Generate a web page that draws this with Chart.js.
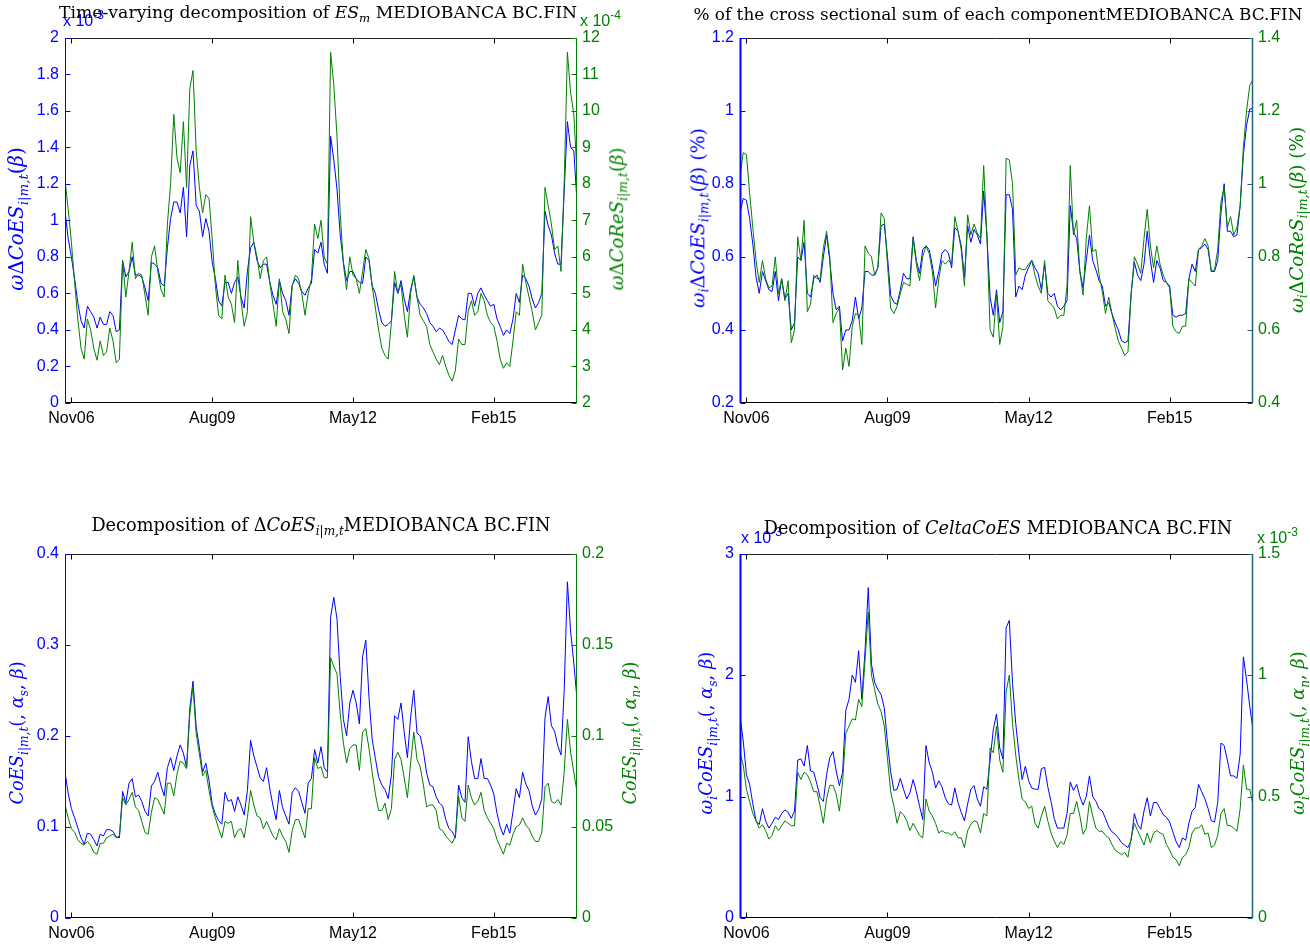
<!DOCTYPE html>
<html>
<head>
<meta charset="utf-8">
<title>MEDIOBANCA BC.FIN decomposition</title>
<script src="https://cdn.jsdelivr.net/npm/chart.js@4.4.1/dist/chart.umd.min.js"></script>
<style>
  html, body { margin: 0; padding: 0; background: #fff; }
  #page { position: relative; width: 1310px; height: 945px; overflow: hidden; background: #fff; }
  .box { position: absolute; }
  .mult { position: absolute; font-family: 'Liberation Sans', Arial, sans-serif; font-size: 16px; white-space: nowrap; line-height: 1; transform: translateY(-50%); }
  .mult sup { font-size: 75%; vertical-align: 0.55em; }
  .ttl { position: absolute; transform: translate(-50%, -50%); white-space: nowrap; font-family: 'DejaVu Serif', serif; font-size: 16px; color: #000; line-height: 1; }
  .yl { position: absolute; transform: translate(-50%, -50%) rotate(-90deg); white-space: nowrap; font-family: 'DejaVu Serif', serif; font-size: 17px; line-height: 1; }
  .ttl sub, .yl sub { font-size: 68%; vertical-align: -0.35em; }
  .blue { color: #0000ff; }
  .green { color: #008000; }
</style>
</head>
<body>
<div id="page">
  <div class="box" style="left:5px;top:22px;width:632px;height:411px"><canvas id="c1"></canvas></div>
  <div class="box" style="left:680px;top:22px;width:633px;height:411px"><canvas id="c2"></canvas></div>
  <div class="box" style="left:5px;top:538px;width:632px;height:410px"><canvas id="c3"></canvas></div>
  <div class="box" style="left:680px;top:538px;width:633px;height:410px"><canvas id="c4"></canvas></div>

  <!-- axis multipliers -->
  <div class="mult blue" style="left:63px;top:19px">x 10<sup>-3</sup></div>
  <div class="mult green" style="left:580px;top:19px">x 10<sup>-4</sup></div>
  <div class="mult blue" style="left:741px;top:536px">x 10<sup>-3</sup></div>
  <div class="mult green" style="left:1257px;top:536px">x 10<sup>-3</sup></div>

  <!-- panel titles -->
  <div class="ttl fit" data-w="519" style="left:318px;top:14px">Time-varying decomposition of <i>ES<sub>m</sub></i> MEDIOBANCA BC.FIN</div>
  <div class="ttl fit" data-w="610" style="left:998px;top:14px">% of the cross sectional sum of each componentMEDIOBANCA BC.FIN</div>
  <div class="ttl fit" data-w="460" style="left:321px;top:527px">Decomposition of Δ<i>CoES<sub>i|m,t</sub></i>MEDIOBANCA BC.FIN</div>
  <div class="ttl fit" data-w="469" style="left:998px;top:529px">Decomposition of <i>CeltaCoES</i> MEDIOBANCA BC.FIN</div>

  <!-- axis titles -->
  <div class="yl blue fit" data-w="143" style="left:19px;top:219px"><i>ω</i>Δ<i>CoES<sub>i|m,t</sub></i>(<i>β</i>)</div>
  <div class="yl green fit" data-w="143" style="left:619px;top:219px"><i>ω</i>Δ<i>CoReS<sub>i|m,t</sub></i>(<i>β</i>)</div>
  <div class="yl blue fit" data-w="180" style="left:700px;top:218px"><i>ω<sub>i</sub></i>Δ<i>CoES<sub>i|m,t</sub></i>(<i>β</i>) (%)</div>
  <div class="yl green fit" data-w="186" style="left:1299px;top:220px"><i>ω<sub>i</sub></i>Δ<i>CoReS<sub>i|m,t</sub></i>(<i>β</i>) (%)</div>
  <div class="yl blue fit" data-w="143" style="left:19px;top:733px"><i>CoES<sub>i|m,t</sub></i>(, <i>α<sub>s</sub></i>, <i>β</i>)</div>
  <div class="yl green fit" data-w="143" style="left:632px;top:733px"><i>CoES<sub>i|m,t</sub></i>(, <i>α<sub>n</sub></i>, <i>β</i>)</div>
  <div class="yl blue fit" data-w="163" style="left:708px;top:733px"><i>ω<sub>i</sub>CoES<sub>i|m,t</sub></i>(, <i>α<sub>s</sub></i>, <i>β</i>)</div>
  <div class="yl green fit" data-w="163" style="left:1300px;top:733px"><i>ω<sub>i</sub>CoES<sub>i|m,t</sub></i>(, <i>α<sub>n</sub></i>, <i>β</i>)</div>
</div>

<script>
// Observations are sampled every 0.75 month; time is measured in months from Nov 2006.
const SAMPLE_START = -1.5;
const SAMPLE_STEP = 0.75;
const tickMonths = [0, 33, 66, 99];
const MONTHS = ['Jan','Feb','Mar','Apr','May','Jun','Jul','Aug','Sep','Oct','Nov','Dec'];

// Time-varying decomposition of ES_m: omega*DeltaCoES (units of 1e-3)
const esOmegaCoES = [
  1.05, 0.90, 0.80, 0.68, 0.55, 0.45, 0.41, 0.53, 0.50, 0.47,
  0.41, 0.47, 0.43, 0.43, 0.50, 0.48, 0.39, 0.40, 0.78, 0.69,
  0.72, 0.80, 0.70, 0.70, 0.69, 0.63, 0.56, 0.77, 0.76, 0.74,
  0.655, 0.64, 0.85, 1.01, 1.10, 1.10, 1.04, 1.18, 0.91, 1.30,
  1.38, 1.08, 1.05, 0.91, 1.01, 0.94, 0.77, 0.68, 0.56, 0.53,
  0.66, 0.66, 0.60, 0.66, 0.69, 0.58, 0.52, 0.72, 0.85, 0.88,
  0.78, 0.74, 0.76, 0.76, 0.66, 0.59, 0.54, 0.67, 0.60, 0.56,
  0.48, 0.645, 0.68, 0.655, 0.61, 0.59, 0.63, 0.655, 0.84, 0.82,
  0.88, 0.76, 0.71, 1.46, 1.33, 1.17, 0.92, 0.77, 0.67, 0.72,
  0.72, 0.68, 0.66, 0.655, 0.80, 0.78, 0.64, 0.60, 0.51, 0.44,
  0.42, 0.43, 0.45, 0.66, 0.60, 0.67, 0.57, 0.50, 0.62, 0.69,
  0.58, 0.54, 0.52, 0.49, 0.44, 0.42, 0.39, 0.41, 0.40, 0.37,
  0.335, 0.32, 0.40, 0.48, 0.46, 0.455, 0.60, 0.60, 0.53, 0.60,
  0.63, 0.59, 0.56, 0.53, 0.54, 0.46, 0.42, 0.37, 0.40, 0.38,
  0.46, 0.60, 0.55, 0.70, 0.68, 0.64, 0.57, 0.52, 0.55, 0.60,
  1.05, 0.97, 0.92, 0.82, 0.76, 0.76, 1.16, 1.54, 1.40, 1.38,
  1.10
];
// omega*DeltaCoReS (units of 1e-4)
const esOmegaCoReS = [
  8.1, 7.3, 6.4, 5.3, 4.3, 3.5, 3.2, 4.3, 4.0, 3.5,
  3.17, 3.7, 3.3, 3.4, 4.05, 3.7, 3.1, 3.2, 5.9, 4.9,
  5.6, 6.4, 5.4, 5.55, 5.5, 4.95, 4.4, 6.0, 6.3, 5.6,
  5.1, 4.9, 6.9, 8.0, 9.9, 8.7, 8.3, 9.7, 7.9, 10.6,
  11.1, 8.9, 7.9, 7.2, 7.7, 7.6, 6.5, 5.2, 4.4, 4.3,
  5.5, 4.9, 4.7, 4.2, 5.9, 4.8, 4.1, 4.5, 7.1, 6.4,
  6.0, 5.4, 5.9, 6.0, 5.3, 4.7, 4.1, 5.4, 4.5, 4.29,
  3.9, 5.2, 5.5, 5.4, 5.0, 4.4, 5.0, 5.4, 6.9, 6.5,
  7.0, 6.0, 5.8, 11.6, 10.7, 9.3, 7.2, 5.8, 5.1, 6.0,
  5.5, 5.4, 5.0, 5.6, 6.2, 5.95, 5.2, 4.6, 4.0, 3.5,
  3.3, 3.2, 4.2, 5.6, 5.0, 5.25, 4.4, 3.8, 5.0, 5.5,
  4.9, 4.4, 4.25, 4.1, 3.6, 3.4, 3.2, 3.05, 3.3, 3.0,
  2.75, 2.6, 2.9, 3.75, 3.6, 3.6, 4.5, 4.8, 4.4, 4.5,
  5.0, 4.8, 4.4, 4.2, 4.1, 3.7, 3.2, 2.95, 3.1, 3.0,
  3.7, 4.5, 4.4, 5.8, 5.3, 4.9, 4.5, 4.0, 4.2, 4.4,
  7.9, 7.4, 6.9, 6.2, 6.3, 5.6, 8.0, 11.6, 10.5, 9.9,
  8.3
];

// Share of the cross-sectional sum (%)
const shareCoES = [
  0.72, 0.76, 0.755, 0.705, 0.635, 0.545, 0.50, 0.56, 0.535, 0.51,
  0.505, 0.56, 0.48, 0.54, 0.485, 0.50, 0.40, 0.42, 0.60, 0.59,
  0.64, 0.50, 0.49, 0.54, 0.55, 0.53, 0.60, 0.66, 0.59, 0.50,
  0.455, 0.465, 0.37, 0.40, 0.40, 0.425, 0.49, 0.43, 0.46, 0.56,
  0.56, 0.55, 0.55, 0.57, 0.685, 0.69, 0.60, 0.495, 0.475, 0.47,
  0.51, 0.555, 0.54, 0.54, 0.655, 0.59, 0.555, 0.62, 0.63, 0.62,
  0.575, 0.52, 0.56, 0.61, 0.62, 0.61, 0.57, 0.68, 0.67, 0.63,
  0.545, 0.685, 0.64, 0.675, 0.66, 0.635, 0.78, 0.66, 0.49, 0.44,
  0.51, 0.42, 0.45, 0.77, 0.77, 0.73, 0.49, 0.52, 0.51, 0.55,
  0.57, 0.59, 0.57, 0.555, 0.51, 0.58, 0.50, 0.49, 0.50, 0.465,
  0.455, 0.465, 0.48, 0.74, 0.67, 0.65, 0.56, 0.515, 0.59, 0.66,
  0.59, 0.565, 0.535, 0.52, 0.465, 0.475, 0.445, 0.42, 0.40, 0.37,
  0.365, 0.37, 0.50, 0.585, 0.55, 0.535, 0.58, 0.67, 0.59, 0.53,
  0.59, 0.57, 0.535, 0.53, 0.52, 0.44, 0.435, 0.44, 0.44, 0.445,
  0.54, 0.58, 0.56, 0.62, 0.625, 0.635, 0.62, 0.56, 0.56, 0.59,
  0.72, 0.80, 0.67, 0.67, 0.655, 0.66, 0.74, 0.88, 0.96, 1.005,
  1.005
];
const shareCoReS = [
  1.02, 1.085, 1.08, 0.975, 0.88, 0.79, 0.73, 0.79, 0.74, 0.715,
  0.72, 0.80, 0.70, 0.74, 0.68, 0.735, 0.565, 0.60, 0.855, 0.79,
  0.90, 0.65, 0.67, 0.75, 0.74, 0.74, 0.825, 0.87, 0.80, 0.62,
  0.645, 0.66, 0.49, 0.55, 0.50, 0.61, 0.645, 0.64, 0.56, 0.83,
  0.81, 0.80, 0.75, 0.77, 0.92, 0.905, 0.78, 0.66, 0.645, 0.665,
  0.70, 0.73, 0.725, 0.72, 0.85, 0.78, 0.735, 0.80, 0.83, 0.81,
  0.76, 0.66, 0.74, 0.79, 0.78, 0.79, 0.78, 0.91, 0.87, 0.82,
  0.72, 0.915, 0.86, 0.89, 0.865, 0.85, 1.05, 0.86, 0.60, 0.58,
  0.70, 0.56, 0.61, 1.07, 1.065, 1.0, 0.75, 0.77, 0.765, 0.765,
  0.78, 0.79, 0.75, 0.72, 0.70, 0.79, 0.68, 0.67, 0.66, 0.63,
  0.64, 0.64, 0.72, 1.05, 0.86, 0.90, 0.76, 0.695, 0.85, 0.94,
  0.815, 0.82, 0.75, 0.705, 0.645, 0.69, 0.645, 0.605, 0.57, 0.55,
  0.53, 0.54, 0.70, 0.80, 0.78, 0.755, 0.85, 0.93, 0.83, 0.77,
  0.83, 0.78, 0.75, 0.73, 0.715, 0.61, 0.595, 0.59, 0.61, 0.61,
  0.74, 0.73, 0.72, 0.82, 0.83, 0.85, 0.83, 0.76, 0.765, 0.82,
  0.95, 0.99, 0.88, 0.91, 0.86, 0.88, 0.94, 1.10, 1.20, 1.27,
  1.285
];

// Decomposition of DeltaCoES: CoES(alpha_s) and CoES(alpha_n)
const coesAlphaS = [
  0.160, 0.137, 0.120, 0.110, 0.099, 0.088, 0.081, 0.093, 0.092, 0.086,
  0.079, 0.092, 0.090, 0.097, 0.097, 0.095, 0.089, 0.088, 0.139, 0.126,
  0.148, 0.153, 0.133, 0.135, 0.128, 0.117, 0.112, 0.145, 0.150, 0.160,
  0.145, 0.134, 0.165, 0.176, 0.162, 0.178, 0.190, 0.181, 0.165, 0.230,
  0.260, 0.210, 0.187, 0.160, 0.170, 0.151, 0.125, 0.114, 0.107, 0.103,
  0.138, 0.128, 0.130, 0.117, 0.133, 0.124, 0.113, 0.140, 0.195, 0.178,
  0.166, 0.154, 0.150, 0.165, 0.142, 0.123, 0.108, 0.140, 0.121, 0.112,
  0.103, 0.138, 0.143, 0.139, 0.127, 0.115, 0.148, 0.153, 0.185, 0.170,
  0.188, 0.165, 0.160, 0.330, 0.352, 0.328, 0.265, 0.218, 0.200, 0.236,
  0.250, 0.236, 0.213, 0.287, 0.305, 0.242, 0.196, 0.175, 0.155, 0.146,
  0.141, 0.131, 0.157, 0.222, 0.218, 0.236, 0.204, 0.176, 0.220, 0.250,
  0.203, 0.200, 0.183, 0.159, 0.146, 0.144, 0.133, 0.126, 0.123, 0.108,
  0.098, 0.095, 0.088, 0.146, 0.132, 0.127, 0.199, 0.172, 0.153, 0.153,
  0.175, 0.153, 0.153, 0.146, 0.136, 0.115, 0.100, 0.091, 0.103, 0.093,
  0.117, 0.142, 0.132, 0.160, 0.147, 0.140, 0.123, 0.113, 0.119, 0.131,
  0.220, 0.243, 0.211, 0.205, 0.189, 0.179, 0.250, 0.369, 0.315, 0.280,
  0.240
];
const coesAlphaN = [
  0.062, 0.055, 0.049, 0.047, 0.043, 0.041, 0.040, 0.042, 0.040, 0.036,
  0.035, 0.041, 0.041, 0.044, 0.045, 0.046, 0.044, 0.045, 0.066, 0.062,
  0.065, 0.069, 0.061, 0.059, 0.053, 0.047, 0.046, 0.058, 0.066, 0.065,
  0.061, 0.057, 0.074, 0.074, 0.067, 0.079, 0.086, 0.085, 0.082, 0.112,
  0.127, 0.101, 0.090, 0.078, 0.081, 0.070, 0.061, 0.055, 0.049, 0.044,
  0.053, 0.052, 0.053, 0.044, 0.048, 0.049, 0.044, 0.055, 0.070, 0.062,
  0.056, 0.055, 0.049, 0.053, 0.049, 0.045, 0.043, 0.049, 0.045, 0.042,
  0.036, 0.048, 0.054, 0.054, 0.049, 0.044, 0.060, 0.060, 0.088, 0.082,
  0.083, 0.077, 0.077, 0.143, 0.138, 0.134, 0.112, 0.096, 0.085, 0.093,
  0.095, 0.095, 0.081, 0.102, 0.104, 0.093, 0.080, 0.068, 0.059, 0.059,
  0.063, 0.054, 0.060, 0.087, 0.091, 0.087, 0.077, 0.066, 0.085, 0.102,
  0.087, 0.083, 0.073, 0.061, 0.062, 0.062, 0.059, 0.049, 0.048, 0.045,
  0.043, 0.041, 0.045, 0.067, 0.055, 0.053, 0.073, 0.066, 0.062, 0.064,
  0.069, 0.059, 0.055, 0.052, 0.049, 0.043, 0.039, 0.035, 0.041, 0.040,
  0.046, 0.050, 0.051, 0.055, 0.051, 0.049, 0.045, 0.042, 0.042, 0.047,
  0.072, 0.074, 0.064, 0.063, 0.065, 0.062, 0.080, 0.109, 0.091, 0.080,
  0.069
];

// Weighted CoES components (units of 1e-3)
const wCoesAlphaS = [
  1.66, 1.46, 1.18, 1.10, 0.94, 0.80, 0.77, 0.90, 0.80, 0.74,
  0.78, 0.83, 0.81, 0.86, 0.89, 0.87, 0.82, 0.88, 1.30, 1.31,
  1.25, 1.42, 1.21, 1.20, 1.10, 0.99, 0.96, 1.18, 1.32, 1.37,
  1.21, 1.09, 1.20, 1.71, 1.80, 2.00, 1.94, 2.20, 1.80, 2.20,
  2.72, 2.09, 1.94, 1.88, 1.84, 1.73, 1.44, 1.20, 1.05, 1.06,
  1.15, 1.06, 0.98, 1.03, 1.14, 1.04, 0.92, 0.81, 1.42, 1.28,
  1.20, 1.07, 1.13, 1.08, 0.99, 0.94, 0.93, 1.07, 0.95, 0.87,
  0.80, 0.94, 1.06, 1.09, 0.98, 0.92, 1.08, 1.06, 1.30, 1.55,
  1.68, 1.40, 1.31, 2.39, 2.45, 1.93, 1.60, 1.35, 1.14, 1.25,
  1.13, 1.07, 1.06, 1.06, 1.23, 1.24, 1.08, 0.96, 0.82, 0.74,
  0.74, 0.74, 0.86, 1.12, 1.05, 1.10, 1.00, 0.93, 1.00, 1.17,
  1.00, 0.96, 0.90, 0.88, 0.82, 0.75, 0.71, 0.69, 0.66, 0.62,
  0.60, 0.58, 0.64, 0.86, 0.77, 0.73, 0.88, 0.99, 0.84, 0.95,
  0.95, 0.90, 0.85, 0.83, 0.79, 0.71, 0.63, 0.58, 0.66, 0.64,
  0.78, 0.88, 0.91, 1.10, 1.04, 0.98, 0.90, 0.80, 0.79, 0.95,
  1.44, 1.42, 1.30, 1.17, 1.17, 1.15, 1.35, 2.15, 1.96, 1.74,
  1.55
];
const wCoesAlphaN = [
  0.68, 0.63, 0.53, 0.48, 0.43, 0.40, 0.37, 0.384, 0.36, 0.325,
  0.34, 0.38, 0.36, 0.38, 0.40, 0.39, 0.38, 0.38, 0.60, 0.57,
  0.60, 0.59, 0.56, 0.52, 0.52, 0.46, 0.39, 0.49, 0.546, 0.546,
  0.51, 0.44, 0.56, 0.76, 0.79, 0.82, 0.815, 0.90, 0.87, 1.06,
  1.26, 1.00, 0.94, 0.88, 0.85, 0.79, 0.655, 0.52, 0.46, 0.39,
  0.438, 0.425, 0.40, 0.36, 0.39, 0.365, 0.34, 0.33, 0.49, 0.44,
  0.42, 0.39, 0.35, 0.36, 0.35, 0.35, 0.34, 0.355, 0.33, 0.33,
  0.29, 0.36, 0.385, 0.40, 0.395, 0.35, 0.43, 0.42, 0.70, 0.68,
  0.79, 0.65, 0.60, 0.93, 1.00, 0.80, 0.67, 0.57, 0.49, 0.478,
  0.451, 0.46, 0.39, 0.37, 0.42, 0.46, 0.40, 0.35, 0.317, 0.29,
  0.315, 0.303, 0.34, 0.43, 0.43, 0.48, 0.42, 0.345, 0.37, 0.48,
  0.42, 0.37, 0.357, 0.357, 0.34, 0.33, 0.303, 0.28, 0.27, 0.26,
  0.27, 0.25, 0.33, 0.39, 0.36, 0.33, 0.30, 0.35, 0.31, 0.35,
  0.36, 0.35, 0.344, 0.303, 0.28, 0.25, 0.24, 0.215, 0.25, 0.26,
  0.29, 0.35, 0.37, 0.37, 0.384, 0.344, 0.35, 0.29, 0.30, 0.34,
  0.43, 0.45, 0.38, 0.38, 0.37, 0.357, 0.45, 0.63, 0.53, 0.53,
  0.465
];

const BLUE = '#0000ff';
const GREEN = '#008000';
const TICK_FONT = { family: "'Liberation Sans', Arial, sans-serif", size: 16 };

function monthLabel(m) {
  const k = 10 + Math.round(m);
  const y = 2006 + Math.floor(k / 12);
  return MONTHS[k % 12] + String(y % 100).padStart(2, '0');
}
const fmt = v => String(Number(v.toFixed(6)));

// Box, inward tick marks and coloured y-axis lines, drawn over the series
const framePlugin = {
  id: 'frame',
  afterDatasetsDraw(chart, _args, o) {
    const { ctx, chartArea: a, scales } = chart;
    const L = Math.round(a.left) + 0.5, R = Math.round(a.right) - 0.5;
    const T = Math.round(a.top) + 0.5, B = Math.round(a.bottom) - 0.5;
    const tl = 5;
    const seg = (c, w, x1, y1, x2, y2) => {
      ctx.strokeStyle = c; ctx.lineWidth = w;
      ctx.beginPath(); ctx.moveTo(x1, y1); ctx.lineTo(x2, y2); ctx.stroke();
    };
    ctx.save();
    seg('#222', 1, L, T, R, T);
    seg('#000', 1, L, B, R, B);
    scales.x.ticks.forEach(t => {
      const x = Math.round(scales.x.getPixelForValue(t.value)) + 0.5;
      seg('#000', 1, x, B, x, B - tl);
      seg('#000', 1, x, T, x, T + tl);
    });
    scales.yL.ticks.forEach(t => {
      const y = Math.round(scales.yL.getPixelForValue(t.value)) + 0.5;
      seg(o.leftColor, 1, L, y, L + tl, y);
    });
    scales.yR.ticks.forEach(t => {
      const y = Math.round(scales.yR.getPixelForValue(t.value)) + 0.5;
      seg(o.rightTickColor, 1, R, y, R - tl, y);
    });
    seg(o.leftColor, o.leftWidth, L, T - 0.5, L, B + 0.5);
    seg(o.rightColor, o.rightWidth, R, T - 0.5, R, B + 0.5);
    ctx.restore();
  }
};

function makeChart(id, blueVals, greenVals, left, right, frame) {
  const times = blueVals.map((_, i) => SAMPLE_START + SAMPLE_STEP * i);
  const yAxis = (pos, spec, color) => ({
    position: pos, min: spec.min, max: spec.max,
    grid: { display: false, drawTicks: false }, border: { display: false },
    afterFit: s => { s.width = 60; },
    ticks: { stepSize: spec.step, color: color, padding: pos === 'left' ? 6 : 5, font: TICK_FONT, callback: fmt }
  });
  return new Chart(document.getElementById(id), {
    type: 'line',
    data: {
      datasets: [
        { data: times.map((t, i) => ({ x: t, y: blueVals[i] })), yAxisID: 'yL', borderColor: BLUE, order: 1 },
        { data: times.map((t, i) => ({ x: t, y: greenVals[i] })), yAxisID: 'yR', borderColor: GREEN, order: 0 }
      ]
    },
    options: {
      responsive: true, maintainAspectRatio: false, animation: false, devicePixelRatio: 1,
      layout: { padding: { top: 10, left: 0, right: 0, bottom: 0 }, autoPadding: false },
      plugins: { legend: { display: false }, tooltip: { enabled: false }, frame: frame },
      elements: { point: { radius: 0 }, line: { borderWidth: 1, tension: 0 } },
      scales: {
        x: {
          type: 'linear', min: SAMPLE_START, max: SAMPLE_START + SAMPLE_STEP * (blueVals.length - 1),
          grid: { display: false, drawTicks: false }, border: { display: false },
          afterBuildTicks: s => { s.ticks = tickMonths.map(v => ({ value: v })); },
          afterFit: s => { s.height = 30; },
          ticks: { autoSkip: false, maxRotation: 0, padding: 6, color: '#000', font: TICK_FONT, callback: v => monthLabel(v) }
        },
        yL: yAxis('left', left, BLUE),
        yR: yAxis('right', right, GREEN)
      }
    },
    plugins: [framePlugin]
  });
}

makeChart('c1', esOmegaCoES, esOmegaCoReS,
  { min: 0, max: 2, step: 0.2 }, { min: 2, max: 12, step: 1 },
  { leftColor: BLUE, rightColor: GREEN, rightTickColor: GREEN, leftWidth: 1, rightWidth: 1 });
makeChart('c2', shareCoES, shareCoReS,
  { min: 0.2, max: 1.2, step: 0.2 }, { min: 0.4, max: 1.4, step: 0.2 },
  { leftColor: BLUE, rightColor: '#1d6478', rightTickColor: '#1d6478', leftWidth: 2, rightWidth: 1.5 });
makeChart('c3', coesAlphaS, coesAlphaN,
  { min: 0, max: 0.4, step: 0.1 }, { min: 0, max: 0.2, step: 0.05 },
  { leftColor: BLUE, rightColor: GREEN, rightTickColor: GREEN, leftWidth: 1, rightWidth: 1 });
makeChart('c4', wCoesAlphaS, wCoesAlphaN,
  { min: 0, max: 3, step: 1 }, { min: 0, max: 1.5, step: 0.5 },
  { leftColor: BLUE, rightColor: '#1d6478', rightTickColor: '#1d6478', leftWidth: 2, rightWidth: 1.5 });

// Size each title so that it spans its intended width
document.querySelectorAll('.fit').forEach(el => {
  const target = Number(el.dataset.w);
  const fs = parseFloat(getComputedStyle(el).fontSize);
  el.style.fontSize = (fs * target / el.offsetWidth).toFixed(2) + 'px';
});
</script>
</body>
</html>
